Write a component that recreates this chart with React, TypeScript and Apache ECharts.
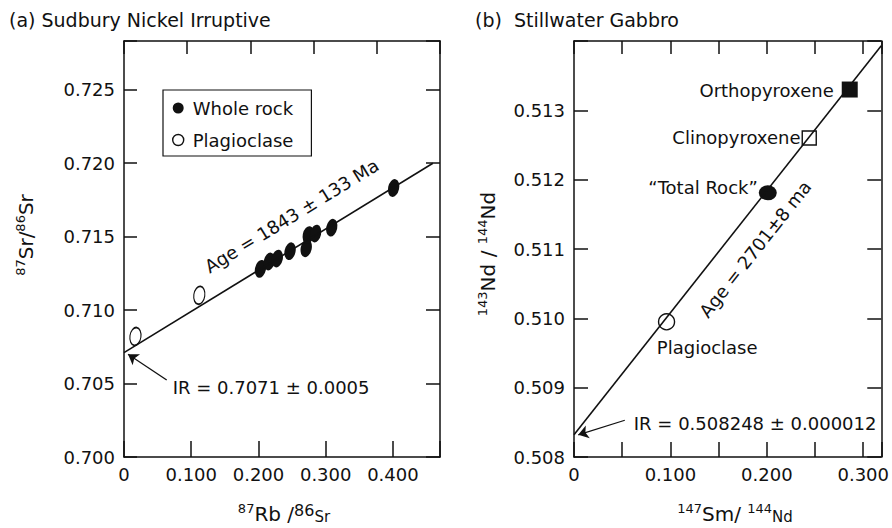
import React, { useEffect, useRef } from 'react';
import * as echarts from 'echarts';

const FONT = '"DejaVu Sans", "Liberation Sans", Arial, sans-serif';
const INK = '#111111';
const ELLIPSE = 'path://M0,-1A1,1,0,1,1,0,1A1,1,0,1,1,0,-1Z';

// ---------- Panel (a): Sudbury Nickel Irruptive (Rb–Sr) ----------
const sudburyTitle = '(a) Sudbury Nickel Irruptive';
const sudburyWholeRockX = [0.203, 0.216, 0.228, 0.247, 0.271, 0.274, 0.285, 0.309, 0.401];
const sudburyWholeRockY = [0.7128, 0.7133, 0.7135, 0.714, 0.7142, 0.7151, 0.7152, 0.7156, 0.7183];
const sudburyPlagX = [0.017, 0.112];
const sudburyPlagY = [0.7082, 0.711];
const sudburyIsochronX = [0, 0.4594];
const sudburyIsochronY = [0.7071, 0.71998];
const sudburyArrowX = [0.0635, 0.006]; // tail, tip
const sudburyArrowY = [0.70524, 0.70699];
const sudburyAgeAnchorX = 0.272;
const sudburyAge = 'Age = 1843 ± 133 Ma';
const sudburyIR = 'IR = 0.7071 ± 0.0005';
const sudburyXMin = 0;
const sudburyXMax = 0.47;
const sudburyXStep = 0.1;
const sudburyTopXMax = 0.5;
const sudburyYMin = 0.7;
const sudburyYMax = 0.7283;
const sudburyYStep = 0.005;
const legendNames = ['Whole rock', 'Plagioclase'];

// ---------- Panel (b): Stillwater Gabbro (Sm–Nd) ----------
const stillwaterTitle = '(b)  Stillwater Gabbro';
const stillwaterNames = ['Plagioclase', '“Total Rock”', 'Clinopyroxene', 'Orthopyroxene'];
const stillwaterX = [0.096, 0.201, 0.244, 0.286];
const stillwaterY = [0.50995, 0.51181, 0.5126, 0.5133];
const stillwaterIsochronX = [0, 0.3187];
const stillwaterIsochronY = [0.50832, 0.51393];
const stillwaterArrowX = [0.0527, 0.0044];
const stillwaterArrowY = [0.50853, 0.50832];
const stillwaterAgeAnchorX = 0.166;
const stillwaterAge = 'Age = 2701±8 ma';
const stillwaterIR = 'IR = 0.508248 ± 0.000012';
const stillwaterXMin = 0;
const stillwaterXMax = 0.3187;
const stillwaterXStep = 0.05;
const stillwaterXLabelStep = 0.1;
const stillwaterYMin = 0.508;
const stillwaterYMax = 0.514;
const stillwaterYStep = 0.001;

const isMultiple = (v: number, step: number) => Math.abs(v / step - Math.round(v / step)) < 1e-6;

const axisLine = { show: true, onZero: false, lineStyle: { color: INK, width: 1.5 } };
const labelStyle = { color: INK, fontFamily: FONT, fontSize: 18 };

function xAxis(gridIndex: number, position: 'top' | 'bottom', min: number, max: number, interval: number, tickLen: number, formatter?: (v: number) => string) {
  return {
    type: 'value', gridIndex, position, min, max, interval,
    axisLine,
    axisTick: { show: true, inside: true, length: tickLen, lineStyle: { color: INK, width: 1.5 } },
    axisLabel: formatter ? { show: true, margin: 8, formatter, ...labelStyle } : { show: false },
    splitLine: { show: false },
  };
}

function yAxis(gridIndex: number, position: 'left' | 'right', min: number, max: number, interval: number, tickLen: number, formatter?: (v: number) => string) {
  return {
    type: 'value', gridIndex, position, min, max, interval, scale: true,
    axisLine,
    axisTick: { show: true, inside: true, length: tickLen, lineStyle: { color: INK, width: 1.5 } },
    axisLabel: formatter ? { show: true, margin: 9, formatter, ...labelStyle } : { show: false },
    splitLine: { show: false },
  };
}

const zip = (xs: number[], ys: number[]) => xs.map((x, i) => [x, ys[i]]);

const hollow = { color: 'rgba(0,0,0,0)', borderColor: INK, borderWidth: 1.4, opacity: 1 };
const solid = { color: INK, opacity: 1 };

const stillwaterStyles = [
  { symbol: 'circle', symbolSize: 16, itemStyle: hollow, label: { position: [-1, 34], align: 'left', verticalAlign: 'middle' } },
  { symbol: ELLIPSE, symbolSize: [18, 15], itemStyle: solid, label: { position: 'left', distance: 1, offset: [0, -5] } },
  { symbol: 'rect', symbolSize: 14, itemStyle: hollow, label: { position: 'left', distance: 1, offset: [0, -1] } },
  { symbol: 'rect', symbolSize: 16, itemStyle: solid, label: { position: 'left', distance: 8, offset: [0, 1] } },
];

export default function App() {
  const ref = useRef<HTMLDivElement>(null);
  useEffect(() => {
    const chart = echarts.init(ref.current!, null, { renderer: 'svg' });
    const fmt3 = (v: number) => (v === 0 ? '0' : v.toFixed(3));
    const arrowMark = (xs: number[], ys: number[]) => ({
      silent: true, symbol: ['none', 'arrow'], symbolSize: 10,
      lineStyle: { color: INK, width: 1.3, type: 'solid', opacity: 1 }, label: { show: false },
      emphasis: { disabled: true },
      data: [[{ coord: [xs[0], ys[0]] }, { coord: [xs[1], ys[1]] }]],
    });
    const option: any = {
      animation: false,
      backgroundColor: '#ffffff',
      textStyle: { fontFamily: FONT },
      grid: [
        { left: 124, top: 41, width: 316, height: 416 },
        { left: 574, top: 41, width: 313, height: 416 },
      ],
      xAxis: [
        xAxis(0, 'bottom', sudburyXMin, sudburyXMax, sudburyXStep, 16, (v) => (isMultiple(v, sudburyXStep) ? fmt3(v) : '')),
        xAxis(0, 'top', sudburyXMin, sudburyTopXMax, sudburyXStep, 13),
        xAxis(1, 'bottom', stillwaterXMin, stillwaterXMax, stillwaterXStep, 15, (v) => (isMultiple(v, stillwaterXLabelStep) ? fmt3(v) : '')),
        xAxis(1, 'top', stillwaterXMin, stillwaterXMax, stillwaterXStep, 13),
      ],
      yAxis: [
        yAxis(0, 'left', sudburyYMin, sudburyYMax, sudburyYStep, 13, (v) => (isMultiple(v, sudburyYStep) ? v.toFixed(3) : '')),
        yAxis(0, 'right', sudburyYMin, sudburyYMax, sudburyYStep, 14),
        yAxis(1, 'left', stillwaterYMin, stillwaterYMax, stillwaterYStep, 14, (v) => (v < stillwaterYMax - 1e-9 ? v.toFixed(3) : '')),
        yAxis(1, 'right', stillwaterYMin, stillwaterYMax, stillwaterYStep, 14),
      ],
      legend: {
        left: 163, top: 90, orient: 'vertical', selectedMode: false,
        data: [
          { name: legendNames[0], icon: ELLIPSE, itemStyle: { color: INK, borderWidth: 0, opacity: 1 } },
          { name: legendNames[1], icon: ELLIPSE, itemStyle: hollow },
        ],
        itemWidth: 11, itemHeight: 18, itemGap: 14,
        padding: [9, 18, 7, 9],
        borderColor: INK, borderWidth: 1.2, backgroundColor: '#fff',
        textStyle: { fontFamily: FONT, fontSize: 18, color: INK, padding: [0, 0, 0, 4] },
      },
      series: [
        {
          name: 'Sudbury isochron', type: 'line', xAxisIndex: 0, yAxisIndex: 0,
          data: zip(sudburyIsochronX, sudburyIsochronY), showSymbol: false, symbol: 'none',
          lineStyle: { color: INK, width: 1.6 }, silent: true,
          markLine: arrowMark(sudburyArrowX, sudburyArrowY),
        },
        {
          name: legendNames[0], type: 'scatter', xAxisIndex: 0, yAxisIndex: 0,
          data: zip(sudburyWholeRockX, sudburyWholeRockY),
          symbol: ELLIPSE, symbolSize: [11, 18], symbolRotate: -12, itemStyle: solid,
        },
        {
          name: legendNames[1], type: 'scatter', xAxisIndex: 0, yAxisIndex: 0,
          data: zip(sudburyPlagX, sudburyPlagY),
          symbol: ELLIPSE, symbolSize: [11, 18], symbolRotate: -8, itemStyle: hollow,
        },
        {
          name: 'Stillwater isochron', type: 'line', xAxisIndex: 2, yAxisIndex: 2,
          data: zip(stillwaterIsochronX, stillwaterIsochronY), showSymbol: false, symbol: 'none',
          lineStyle: { color: INK, width: 1.6 }, silent: true,
          markLine: arrowMark(stillwaterArrowX, stillwaterArrowY),
        },
        {
          name: 'Stillwater minerals', type: 'scatter', xAxisIndex: 2, yAxisIndex: 2,
          data: stillwaterNames.map((n, i) => ({
            name: n,
            value: [stillwaterX[i], stillwaterY[i]],
            symbol: stillwaterStyles[i].symbol,
            symbolSize: stillwaterStyles[i].symbolSize,
            itemStyle: stillwaterStyles[i].itemStyle,
            label: { show: true, formatter: '{b}', color: INK, fontFamily: FONT, fontSize: 18, ...stillwaterStyles[i].label },
          })),
        },
      ],
    };
    chart.setOption(option);

    const px = (si: number, x: number, y: number) => chart.convertToPixel({ seriesIndex: si }, [x, y]) as number[];
    const lineAt = (xs: number[], ys: number[], x: number) => ys[0] + ((ys[1] - ys[0]) * (x - xs[0])) / (xs[1] - xs[0]);

    const a0 = px(0, sudburyIsochronX[0], sudburyIsochronY[0]);
    const a1 = px(0, sudburyIsochronX[1], sudburyIsochronY[1]);
    const thA = Math.atan2(a0[1] - a1[1], a1[0] - a0[0]);
    const aAnchor = px(0, sudburyAgeAnchorX, lineAt(sudburyIsochronX, sudburyIsochronY, sudburyAgeAnchorX));
    const aCenter = [aAnchor[0] - 29 * Math.sin(thA), aAnchor[1] - 29 * Math.cos(thA)];
    const aTail = px(0, sudburyArrowX[0], sudburyArrowY[0]);

    const b0 = px(3, stillwaterIsochronX[0], stillwaterIsochronY[0]);
    const b1 = px(3, stillwaterIsochronX[1], stillwaterIsochronY[1]);
    const thB = Math.atan2(b0[1] - b1[1], b1[0] - b0[0]);
    const bAnchor = px(3, stillwaterAgeAnchorX, lineAt(stillwaterIsochronX, stillwaterIsochronY, stillwaterAgeAnchorX));
    const bCenter = [bAnchor[0] + 27 * Math.sin(thB), bAnchor[1] + 27 * Math.cos(thB)];
    const bTail = px(3, stillwaterArrowX[0], stillwaterArrowY[0]);

    const txt = (text: string, x: number, y: number, align: string, rotation = 0, size = 18) => ({
      type: 'text', x, y, rotation, silent: true,
      style: { text, fill: INK, fontFamily: FONT, fontSize: size, align, verticalAlign: 'middle' },
    });
    const rich = {
      sup: { fontSize: 13, fontFamily: FONT, fill: INK, verticalAlign: 'top', lineHeight: 13 },
      m: { fontSize: 20, fontFamily: FONT, fill: INK, verticalAlign: 'bottom', lineHeight: 22 },
      s: { fontSize: 15, fontFamily: FONT, fill: INK, verticalAlign: 'bottom', lineHeight: 18 },
      sup2: { fontSize: 16, fontFamily: FONT, fill: INK, verticalAlign: 'top', lineHeight: 16 },
    };
    const richTxt = (text: string, x: number, y: number, rotation = 0) => ({
      type: 'text', x, y, rotation, silent: true,
      style: { text, rich, fill: INK, fontFamily: FONT, fontSize: 20, align: 'center', verticalAlign: 'middle' },
    });

    chart.setOption({
      graphic: [
        txt(sudburyTitle, 9, 20, 'left', 0, 19),
        txt(stillwaterTitle, 475, 20, 'left', 0, 19),
        txt(sudburyAge, aCenter[0], aCenter[1], 'center', thA),
        txt(stillwaterAge, bCenter[0], bCenter[1], 'center', thB),
        txt(sudburyIR, aTail[0] + 6, aTail[1] + 8, 'left'),
        txt(stillwaterIR, bTail[0] + 9, bTail[1] + 3, 'left'),
        richTxt('{sup|87}{m|Sr/}{sup|86}{m|Sr}', 25, 235, Math.PI / 2),
        richTxt('{sup|87}{m|Rb /}{sup2|86}{s|Sr}', 284, 513),
        richTxt('{sup|143}{m|Nd / }{sup|144}{m|Nd}', 487, 254, Math.PI / 2),
        richTxt('{sup|147}{m|Sm/ }{sup|144}{s|Nd}', 735, 513),
      ],
    });
    return () => chart.dispose();
  }, []);
  return <div ref={ref} style={{ position: 'absolute', left: 0, top: 0, width: 892, height: 528 }} />;
}
